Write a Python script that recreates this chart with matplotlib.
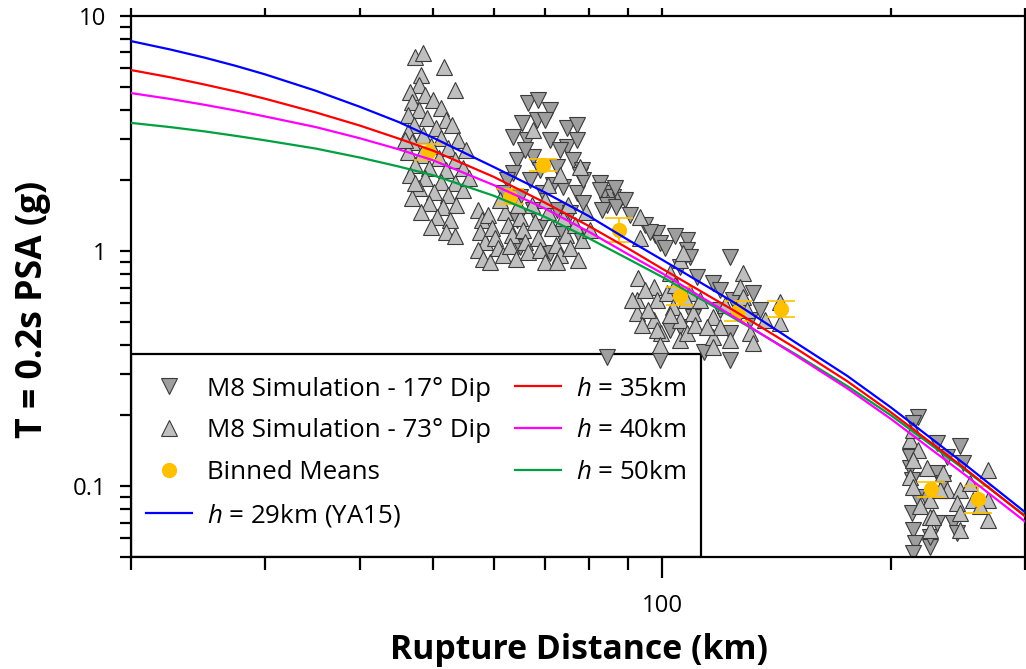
import matplotlib
matplotlib.use('Agg')
import matplotlib.pyplot as plt
from matplotlib.lines import Line2D
from matplotlib.patches import Rectangle
from matplotlib.ticker import LogLocator, NullFormatter

plt.rcParams['font.family'] = ['Open Sans', 'DejaVu Sans']
plt.rcParams['mathtext.fontset'] = 'custom'
plt.rcParams['mathtext.it'] = 'Open Sans:italic'
plt.rcParams['mathtext.rm'] = 'Open Sans'

# ---------------- data ----------------
dip17_dist = [66.6, 68.7, 71.2, 65.4, 68.5, 75.0, 77.3, 63.7, 66.4, 71.2, 75.0, 77.3, 64.4, 67.6, 72.7, 76.3,
              63.7, 67.0, 74.1, 77.3, 65.0, 69.7, 72.7, 75.7, 64.4, 69.1, 73.4, 78.0, 71.2, 65.0, 62.5, 61.8,
              70.1, 73.4, 69.1, 66.0, 78.0, 71.9, 67.6,
              78.5, 78.7, 78.7, 82.9, 83.7, 86.2, 88.0, 84.7, 83.4, 86.9, 82.9, 86.7, 89.3, 90.7, 94.9, 97.9,
              98.5, 99.4, 107.9, 107.9, 108.8, 105.6, 111.2, 99.4, 102.5, 105.6, 109.8, 96.4, 100.9, 104.0, 84.7,
              116.7, 119.2, 122.9, 124.0, 126.6, 122.9, 122.9, 131.7, 130.5, 113.3, 134.5, 119.2,
              217.2, 213.9, 229.9, 246.7, 249.0, 213.3, 213.3, 213.9, 215.2, 213.9, 225.3, 225.3, 229.9, 241.5,
              244.4, 223.0, 229.9, 234.3, 212.0, 212.0, 237.1, 216.5]
dip17_psa = [4.26, 4.39, 3.98, 3.50, 3.61, 3.34, 3.44, 3.06, 2.97, 2.97, 2.77, 2.97, 2.44, 2.51, 2.28, 2.44,
             2.15, 2.00, 1.87, 1.76, 1.70, 1.76, 1.49, 1.45, 1.355, 1.27, 1.19, 1.15, 0.98, 1.04, 2.00, 1.76,
             3.61, 2.69, 2.21, 2.69, 2.11, 1.91, 1.49,
             2.21, 2.00, 1.60, 1.95, 1.76, 1.70, 1.65, 1.57, 1.49, 1.54, 1.82, 1.85, 1.65, 1.42, 1.29, 1.17,
             1.19, 1.08, 1.11, 1.01, 0.94, 0.855, 0.775, 0.344, 0.461, 0.475, 0.524, 1.20, 1.03, 1.16, 0.354,
             0.731, 0.682, 0.943, 0.619, 0.545, 0.447, 0.344, 0.662, 0.509, 0.372, 0.561, 0.561,
             0.197, 0.185, 0.152, 0.149, 0.126, 0.106, 0.077, 0.065, 0.0572, 0.052, 0.055, 0.0606, 0.0695, 0.0695,
             0.063, 0.087, 0.114, 0.103, 0.120, 0.133, 0.133, 0.090]

dip73_dist = [47.3, 48.4, 51.6, 48.1, 47.8, 53.4, 46.6, 48.8, 46.9, 49.9, 51.1, 47.8, 46.3, 49.0, 51.9, 47.1,
              50.4, 52.9, 46.3, 48.4, 51.1, 53.9, 46.9, 49.6, 52.3, 55.1, 46.3, 48.1, 50.8, 53.4, 47.3, 49.3,
              51.9, 54.6, 46.6, 48.8, 51.1, 53.4, 47.8, 50.1, 52.3, 54.6, 46.9, 49.3, 51.4, 53.5, 48.1, 50.6,
              52.6, 49.6, 51.9, 53.4, 47.3, 55.6, 45.8,
              57.3, 57.9, 57.6, 58.5, 57.3, 58.1, 59.4, 59.0, 59.7, 60.3, 60.8, 61.8, 62.1, 62.7, 63.5, 63.1,
              64.1, 65.0, 65.6, 66.0, 66.6, 67.4, 68.0, 68.7, 69.1, 70.1, 70.8, 71.7, 72.4, 73.4, 74.1, 74.8,
              75.7, 76.8, 77.5, 78.5, 79.4, 80.4, 61.2, 64.6, 70.1, 75.2, 72.6, 67.6, 78.0, 70.8, 73.4,
              92.9, 92.7, 92.7, 97.4, 98.5, 97.4, 101.5, 103.4, 105.6, 105.6, 108.8, 109.8, 107.9, 99.7, 98.5,
              102.5, 105.6, 106.6, 93.5, 93.5, 94.9, 95.8, 94.1, 99.4, 102.5, 104.0, 110.5, 107.3, 91.2,
              116.7, 116.7, 116.7, 127.7, 126.6, 127.7, 129.3, 130.5, 131.7, 142.9, 142.9, 119.2, 114.6, 121.0,
              136.5, 112.2, 122.9,
              212.0, 217.2, 213.9, 223.0, 212.0, 213.9, 234.3, 237.1, 225.3, 218.5, 225.3, 225.3, 246.7, 244.4,
              246.7, 246.7, 254.2, 256.5, 267.8, 267.8, 267.8, 262.1, 232.2, 226.7, 213.9]
dip73_psa = [6.70, 6.96, 6.07, 5.61, 5.09, 4.84, 4.75, 4.61, 4.30, 4.39, 4.06, 3.98, 3.79, 3.68, 3.61, 3.44,
             3.34, 3.44, 3.21, 3.11, 3.02, 2.97, 2.91, 2.80, 2.74, 2.69, 2.64, 2.56, 2.49, 2.44, 2.32, 2.25,
             2.21, 2.25, 2.11, 2.04, 1.97, 1.95, 1.85, 1.78, 1.73, 1.82, 1.68, 1.60, 1.54, 1.57, 1.47, 1.39,
             1.355, 1.27, 1.20, 1.16, 1.95, 2.04, 2.97,
             1.49, 1.355, 1.20, 1.09, 1.01, 0.93, 0.90, 1.42, 1.25, 1.14, 1.03, 0.96, 1.47, 1.29, 1.17, 1.05,
             0.93, 1.38, 1.23, 1.09, 0.99, 1.57, 1.33, 1.14, 1.01, 0.90, 1.47, 1.25, 1.06, 0.96, 1.38, 1.17,
             1.03, 1.29, 0.915, 1.11, 1.47, 1.23, 1.65, 1.57, 1.65, 1.57, 0.90, 3.27, 2.28, 1.91, 2.11,
             0.767, 0.619, 0.545, 0.703, 0.619, 0.509, 0.662, 0.578, 0.509, 0.418, 0.662, 0.545, 0.447, 0.447, 0.461,
             0.806, 0.915, 0.98, 1.395, 1.14, 0.682, 0.561, 0.485, 0.398, 0.534, 0.717, 0.485, 0.619, 0.619,
             0.524, 0.431, 0.390, 0.806, 0.703, 0.637, 0.561, 0.447, 0.406, 0.607, 0.494, 0.475, 0.475, 0.589,
             0.509, 0.619, 0.418,
             0.157, 0.142, 0.129, 0.120, 0.109, 0.099, 0.114, 0.096, 0.087, 0.082, 0.074, 0.065, 0.096, 0.085,
             0.077, 0.065, 0.103, 0.087, 0.117, 0.087, 0.0716, 0.082, 0.096, 0.074, 0.173]

mean_dist = [49.2, 63.1, 69.7, 87.8, 105.6, 125.9, 143.4, 225.9, 260.5]
mean_psa = [2.64, 1.70, 2.32, 1.23, 0.643, 0.555, 0.566, 0.097, 0.088]
mean_low = [2.44, 1.58, 2.19, 1.09, 0.589, 0.503, 0.524, 0.090, 0.077]
mean_high = [2.85, 1.83, 2.46, 1.38, 0.702, 0.612, 0.612, 0.104, 0.100]

curve_dist = [20, 22.5, 25, 27.5, 30, 35, 40, 45, 50, 60, 70, 80, 90, 100, 125, 150, 175, 200, 250, 300]
h29_psa = [7.82, 7.21, 6.65, 6.13, 5.65, 4.81, 4.11, 3.54, 3.03, 2.28, 1.78, 1.41, 1.12, 0.918, 0.598, 0.407,
           0.295, 0.216, 0.124, 0.0776]
h35_psa = [5.89, 5.49, 5.11, 4.77, 4.45, 3.89, 3.42, 3.01, 2.67, 2.07, 1.61, 1.28, 1.03, 0.841, 0.552, 0.385,
           0.280, 0.206, 0.119, 0.0745]
h40_psa = [4.70, 4.44, 4.19, 3.96, 3.74, 3.37, 3.02, 2.71, 2.43, 1.91, 1.52, 1.21, 0.973, 0.804, 0.519, 0.359,
           0.261, 0.193, 0.112, 0.0708]
h50_psa = [3.51, 3.37, 3.23, 3.09, 2.96, 2.73, 2.50, 2.29, 2.10, 1.72, 1.40, 1.135, 0.929, 0.776, 0.513, 0.363,
           0.267, 0.200, 0.1175, 0.075]

labels = ['M8 Simulation - 17° Dip', 'M8 Simulation - 73° Dip', 'Binned Means', '$h$ = 29km (YA15)',
          '$h$ = 35km', '$h$ = 40km', '$h$ = 50km']
x_label = 'Rupture Distance (km)'
y_label = 'T = 0.2s PSA (g)'

# ---------------- styles ----------------
C17 = '#9e9e9e'
C73 = '#bfbfbf'
CEDGE = '#3a3a3a'
CMEAN = '#FFC000'
CBLUE = '#0000FF'
CRED = '#FF0000'
CMAG = '#FF00FF'
CGREEN = '#00A040'
W, H = 1026, 669

fig = plt.figure(figsize=(W / 100, H / 100), dpi=100)
ax = fig.add_axes([131 / W, 1 - 557 / H, 894 / W, 541 / H])
ax.set_xscale('log')
ax.set_yscale('log')
ax.set_xlim(20, 300)
ax.set_ylim(0.05, 10)
renderer = fig.canvas.get_renderer()


def fit_size(text, target_px, base=20.0, **kw):
    t = fig.text(0, 0, text, fontsize=base, **kw)
    w = t.get_window_extent(renderer).width
    t.remove()
    return base * target_px / w


ax.plot(dip17_dist, dip17_psa, ls='none', marker='v', ms=12, mfc=C17, mec=CEDGE, mew=0.8, zorder=2)
ax.plot(dip73_dist, dip73_psa, ls='none', marker='^', ms=12, mfc=C73, mec=CEDGE, mew=0.8, zorder=2)

yerr = [[m - l for m, l in zip(mean_psa, mean_low)], [h - m for m, h in zip(mean_psa, mean_high)]]
ax.errorbar(mean_dist, mean_psa, yerr=yerr, fmt='o', ms=10, color=CMEAN, ecolor=CMEAN,
             elinewidth=1.2, capsize=10, capthick=1.2, zorder=3)

ax.plot(curve_dist, h50_psa, color=CGREEN, lw=1.6, zorder=4)
ax.plot(curve_dist, h40_psa, color=CMAG, lw=1.6, zorder=4)
ax.plot(curve_dist, h35_psa, color=CRED, lw=1.6, zorder=4)
ax.plot(curve_dist, h29_psa, color=CBLUE, lw=1.6, zorder=4)

# axes styling
tick_fs = fit_size('100', 41)
for s in ax.spines.values():
    s.set_linewidth(1.6)
ax.set_xticks([100])
ax.set_xticklabels(['100'])
ax.xaxis.set_minor_locator(LogLocator(base=10, subs=range(2, 10), numticks=20))
ax.xaxis.set_minor_formatter(NullFormatter())
ax.set_yticks([0.1, 1, 10])
ax.set_yticklabels(['0.1', '1', '10'])
ax.yaxis.set_minor_locator(LogLocator(base=10, subs=range(2, 10), numticks=20))
ax.yaxis.set_minor_formatter(NullFormatter())
ax.tick_params(axis='x', which='major', direction='out', length=15, width=1.6, pad=12, labelsize=tick_fs)
ax.tick_params(axis='x', which='minor', direction='out', length=9, width=1.6)
ax.tick_params(axis='y', which='both', direction='out', length=8, width=1.6, labelsize=tick_fs, pad=10)
ax.set_xlim(20, 300)
ax.set_ylim(0.05, 10)

axt = ax.twiny()
axt.set_xscale('log')
axt.set_xlim(20, 300)
axt.set_xticks([100])
axt.xaxis.set_minor_locator(LogLocator(base=10, subs=range(2, 10), numticks=20))
axt.xaxis.set_minor_formatter(NullFormatter())
axt.tick_params(axis='x', which='both', direction='out', length=6, width=1.6, labeltop=False)
for s in axt.spines.values():
    s.set_visible(False)

# legend
box = Rectangle((0, 0), (701 - 131) / 894, (557 - 354) / 541, transform=ax.transAxes,
                facecolor='white', edgecolor='black', lw=1.6, zorder=1.4)
ax.add_patch(box)
handles = [
    Line2D([], [], ls='none', marker='v', ms=12, mfc=C17, mec=CEDGE, mew=0.8),
    Line2D([], [], ls='none', marker='^', ms=12, mfc=C73, mec=CEDGE, mew=0.8),
    Line2D([], [], ls='none', marker='o', ms=10, color=CMEAN),
    Line2D([], [], color=CBLUE, lw=1.6),
    Line2D([], [], color=CRED, lw=1.6),
    Line2D([], [], color=CMAG, lw=1.6),
    Line2D([], [], color=CGREEN, lw=1.6),
]
leg_fs = fit_size(labels[0], 284)
fpx = leg_fs * 100 / 72


def make_legend(lspace, ytop):
    lg = ax.legend(handles, labels, ncol=2, loc='upper left',
                   bbox_to_anchor=((146 - 131) / 894, (557 - ytop) / 541),
                   frameon=False, fontsize=leg_fs, handlelength=46 / fpx, handletextpad=15 / fpx,
                   columnspacing=24 / fpx, labelspacing=lspace, borderpad=0, borderaxespad=0)
    lg.set_zorder(1.5)
    return lg


lspace, ytop = 0.5, 375.0
for _ in range(3):
    leg = make_legend(lspace, ytop)
    fig.canvas.draw()
    tx = leg.get_texts()
    c = [H - (t.get_window_extent(renderer).y0 + t.get_window_extent(renderer).y1) / 2 for t in tx[:3]]
    pitch = (c[2] - c[0]) / 2
    lspace += (41.7 - pitch) / fpx
    ytop += 389 - c[0]
leg = make_legend(lspace, ytop)

xlab_fs = fit_size(x_label, 378, fontweight='bold')
ylab_fs = fit_size(y_label, 258, fontweight='bold')
fig.text(33 / W, 1 - 309 / H, y_label, rotation=90, ha='center', va='center',
         fontsize=ylab_fs, fontweight='bold')
fig.text(579 / W, 1 - 650 / H, x_label, ha='center', va='center',
         fontsize=xlab_fs, fontweight='bold')

fig.savefig('out.png', dpi=100)
